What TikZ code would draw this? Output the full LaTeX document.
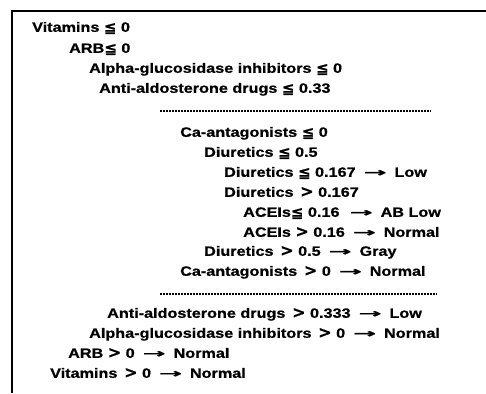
\documentclass[tikz,border=0pt]{standalone}
\usepackage{fontspec}
\newfontfamily\tf{Liberation Sans}[FakeStretch=1.2, FakeBold=0.8]
\newfontfamily\symf{DejaVu Sans}[FakeBold=0.6]
\tikzset{
  rule/.style={node font=\tf\bfseries\fontsize{13.5}{15}\selectfont, anchor=west, inner sep=0pt, text height=9.6pt, text depth=0pt},
  sep/.style={line width=1.1pt, dash pattern=on 2.2pt off 0.8pt},
  frame/.style={line width=2pt}
}
\newcommand{\gapsp}{\hspace{0.5em}}
\newcommand{\LE}{\raisebox{-0.6pt}{\symf\bfseries\fontsize{15}{15}\selectfont ≦}}
\newcommand{\GT}{{\symf\bfseries\fontsize{16}{16}\selectfont >}}
\newcommand{\AR}{\hspace{0.25em}\raisebox{0.3pt}{\scalebox{2.3}[1]{\symf\fontsize{12}{14}\selectfont →}}\hspace{0.25em}}
\begin{document}
\begin{tikzpicture}[x=1pt,y=-1pt]
\useasboundingbox (0,0) rectangle (486,393);
\coordinate (fb) at (11.5,393);
\coordinate (ft) at (11.5,11.5);
\coordinate (fr) at (486,11.5);
\draw[frame] (fb) -- (ft) -- (fr);
\node[rule] (r1) at (32,27) {Vitamins \LE\ 0};
\node[rule] (r2) at (69,48) {ARB\LE\ 0};
\node[rule] (r3) at (89,68) {Alpha-glucosidase inhibitors \LE\ 0};
\node[rule] (r4) at (99,88) {Anti-aldosterone drugs \LE\ 0.33};
\coordinate (d1a) at (160,111);
\coordinate (d1b) at (431,111);
\draw[sep] (d1a) -- (d1b);
\node[rule] (r5) at (180,132) {Ca-antagonists \LE\ 0};
\node[rule] (r6) at (204,152) {Diuretics \LE\ 0.5};
\node[rule] (r7) at (224,172) {Diuretics \LE\ 0.167 \AR\ Low};
\node[rule] (r8) at (224,192) {Diuretics\gapsp \GT\ 0.167};
\node[rule] (r9) at (243,212) {ACEIs\LE\ 0.16\gapsp \AR\ AB Low};
\node[rule] (r10) at (243,232) {ACEIs \GT\ 0.16 \AR\ Normal};
\node[rule] (r11) at (204,251) {Diuretics\gapsp \GT\ 0.5 \AR\ Gray};
\node[rule] (r12) at (180,271) {Ca-antagonists\gapsp \GT\ 0 \AR\ Normal};
\coordinate (d2a) at (160,294);
\coordinate (d2b) at (437,294);
\draw[sep] (d2a) -- (d2b);
\node[rule] (r13) at (107,313) {Anti-aldosterone drugs\gapsp \GT\ 0.333 \AR\ Low};
\node[rule] (r14) at (89,333) {Alpha-glucosidase inhibitors\gapsp \GT\ 0 \AR\ Normal};
\node[rule] (r15) at (68,353) {ARB \GT\ 0 \AR\ Normal};
\node[rule] (r16) at (50,373) {Vitamins\gapsp \GT\ 0 \AR\ Normal};
\end{tikzpicture}
\end{document}
